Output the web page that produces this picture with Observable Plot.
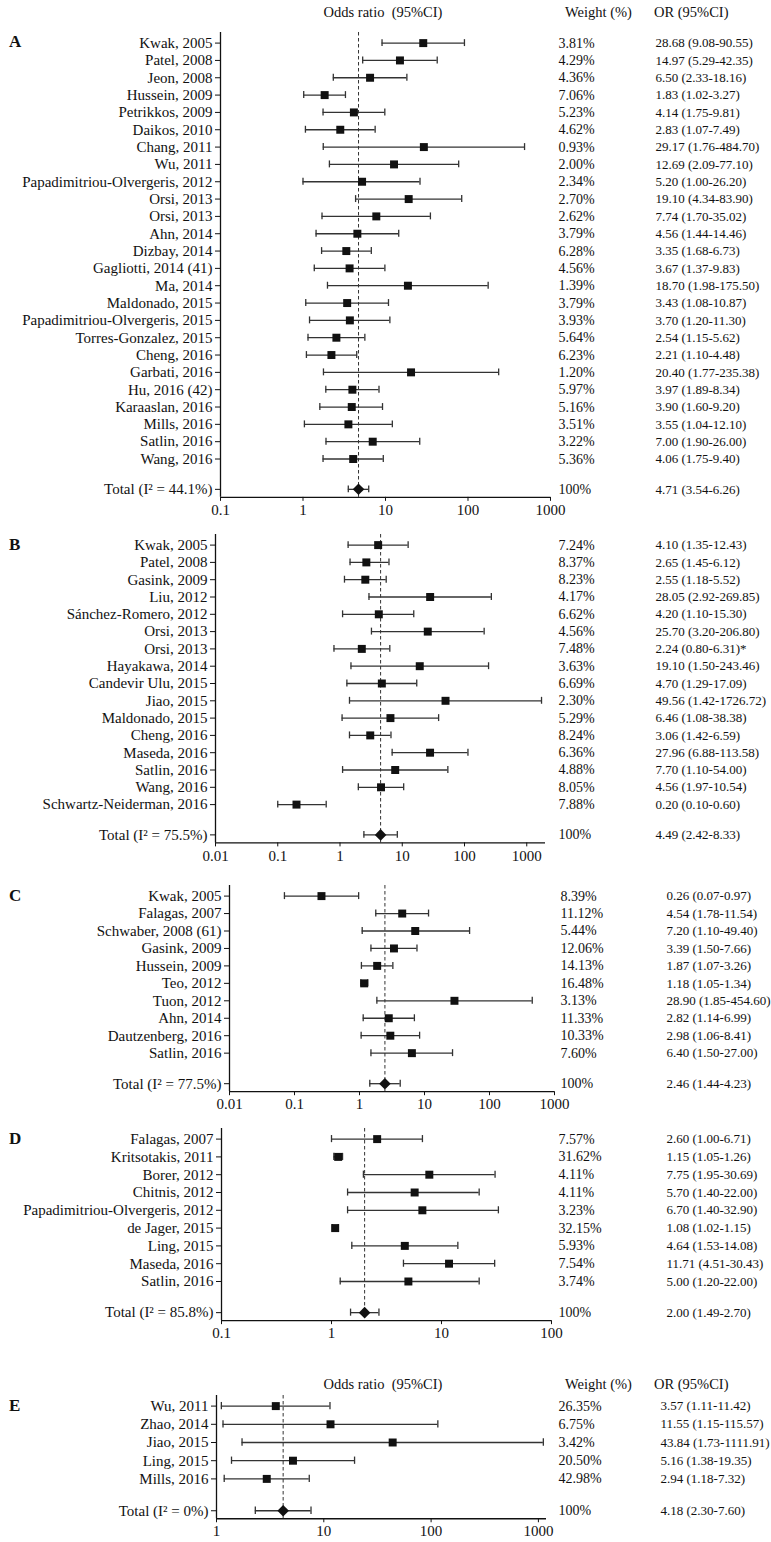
<!DOCTYPE html>
<html><head><meta charset="utf-8">
<script src="https://cdn.jsdelivr.net/npm/d3@7"></script>
<script src="https://cdn.jsdelivr.net/npm/@observablehq/plot@0.6"></script>
<style>
body{margin:0;background:#fff;}
#root{position:relative;width:771px;height:1542px;overflow:hidden;font-family:"Liberation Serif","Times New Roman",serif;color:#111;}
.abs{position:absolute;white-space:pre;line-height:18px;}
.hdr{font-size:14.5px;}
.letter{font-size:17px;font-weight:bold;}
</style></head><body><div id="root"></div>
<script>
// ---------- Panel A ----------
const aStudy = ["Kwak, 2005","Patel, 2008","Jeon, 2008","Hussein, 2009","Petrikkos, 2009","Daikos, 2010","Chang, 2011","Wu, 2011","Papadimitriou-Olvergeris, 2012","Orsi, 2013","Orsi, 2013","Ahn, 2014","Dizbay, 2014","Gagliotti, 2014 (41)","Ma, 2014","Maldonado, 2015","Papadimitriou-Olvergeris, 2015","Torres-Gonzalez, 2015","Cheng, 2016","Garbati, 2016","Hu, 2016 (42)","Karaaslan, 2016","Mills, 2016","Satlin, 2016","Wang, 2016"];
const aOR   = [28.68,14.97,6.50,1.83,4.14,2.83,29.17,12.69,5.20,19.10,7.74,4.56,3.35,3.67,18.70,3.43,3.70,2.54,2.21,20.40,3.97,3.90,3.55,7.00,4.06];
const aLow  = [9.08,5.29,2.33,1.02,1.75,1.07,1.76,2.09,1.00,4.34,1.70,1.44,1.68,1.37,1.98,1.08,1.20,1.15,1.10,1.77,1.89,1.60,1.04,1.90,1.75];
const aHigh = [90.55,42.35,18.16,3.27,9.81,7.49,484.70,77.10,26.20,83.90,35.02,14.46,6.73,9.83,175.50,10.87,11.30,5.62,4.48,235.38,8.34,9.20,12.10,26.00,9.40];
const aWeight = [3.81,4.29,4.36,7.06,5.23,4.62,0.93,2.00,2.34,2.70,2.62,3.79,6.28,4.56,1.39,3.79,3.93,5.64,6.23,1.20,5.97,5.16,3.51,3.22,5.36];
const aNote = aStudy.map(() => "");
const aTotal = [4.71, 3.54, 6.26];
const aI2 = "44.1";
const aTicks = [0.1, 1, 10, 100, 1000];

// ---------- Panel B ----------
const bStudy = ["Kwak, 2005","Patel, 2008","Gasink, 2009","Liu, 2012","Sánchez-Romero, 2012","Orsi, 2013","Orsi, 2013","Hayakawa, 2014","Candevir Ulu, 2015","Jiao, 2015","Maldonado, 2015","Cheng, 2016","Maseda, 2016","Satlin, 2016","Wang, 2016","Schwartz-Neiderman, 2016"];
const bOR   = [4.10,2.65,2.55,28.05,4.20,25.70,2.24,19.10,4.70,49.56,6.46,3.06,27.96,7.70,4.56,0.20];
const bLow  = [1.35,1.45,1.18,2.92,1.10,3.20,0.80,1.50,1.29,1.42,1.08,1.42,6.88,1.10,1.97,0.10];
const bHigh = [12.43,6.12,5.52,269.85,15.30,206.80,6.31,243.46,17.09,1726.72,38.38,6.59,113.58,54.00,10.54,0.60];
const bWeight = [7.24,8.37,8.23,4.17,6.62,4.56,7.48,3.63,6.69,2.30,5.29,8.24,6.36,4.88,8.05,7.88];
const bNote = ["","","","","","","*","","","","","","","","",""];
const bTotal = [4.49, 2.42, 8.33];
const bI2 = "75.5";
const bTicks = [0.01, 0.1, 1, 10, 100, 1000];

// ---------- Panel C ----------
const cStudy = ["Kwak, 2005","Falagas, 2007","Schwaber, 2008 (61)","Gasink, 2009","Hussein, 2009","Teo, 2012","Tuon, 2012","Ahn, 2014","Dautzenberg, 2016","Satlin, 2016"];
const cOR   = [0.26,4.54,7.20,3.39,1.87,1.18,28.90,2.82,2.98,6.40];
const cLow  = [0.07,1.78,1.10,1.50,1.07,1.05,1.85,1.14,1.06,1.50];
const cHigh = [0.97,11.54,49.40,7.66,3.26,1.34,454.60,6.99,8.41,27.00];
const cWeight = [8.39,11.12,5.44,12.06,14.13,16.48,3.13,11.33,10.33,7.60];
const cNote = cStudy.map(() => "");
const cTotal = [2.46, 1.44, 4.23];
const cI2 = "77.5";
const cTicks = [0.01, 0.1, 1, 10, 100, 1000];

// ---------- Panel D ----------
const dStudy = ["Falagas, 2007","Kritsotakis, 2011","Borer, 2012","Chitnis, 2012","Papadimitriou-Olvergeris, 2012","de Jager, 2015","Ling, 2015","Maseda, 2016","Satlin, 2016"];
const dOR   = [2.60,1.15,7.75,5.70,6.70,1.08,4.64,11.71,5.00];
const dLow  = [1.00,1.05,1.95,1.40,1.40,1.02,1.53,4.51,1.20];
const dHigh = [6.71,1.26,30.69,22.00,32.90,1.15,14.08,30.43,22.00];
const dWeight = [7.57,31.62,4.11,4.11,3.23,32.15,5.93,7.54,3.74];
const dNote = dStudy.map(() => "");
const dTotal = [2.00, 1.49, 2.70];
const dI2 = "85.8";
const dTicks = [0.1, 1, 10, 100];

// ---------- Panel E ----------
const eStudy = ["Wu, 2011","Zhao, 2014","Jiao, 2015","Ling, 2015","Mills, 2016"];
const eOR   = [3.57,11.55,43.84,5.16,2.94];
const eLow  = [1.11,1.15,1.73,1.38,1.18];
const eHigh = [11.42,115.57,1111.91,19.35,7.32];
const eWeight = [26.35,6.75,3.42,20.50,42.98];
const eNote = eStudy.map(() => "");
const eTotal = [4.18, 2.30, 7.60];
const eI2 = "0";
const eTicks = [1, 10, 100, 1000];

const headerTexts = ["Odds ratio  (95%CI)", "Weight (%)", "OR (95%CI)"];

const FONT = '"Liberation Serif","Times New Roman",serif';
const root = document.getElementById("root");

function addDiv(text, cls, left, top, extra) {
  const d = document.createElement("div");
  d.className = "abs " + cls;
  d.textContent = text;
  d.style.left = left + "px";
  d.style.top = top + "px";
  if (extra) Object.assign(d.style, extra);
  root.appendChild(d);
  return d;
}

function header(y) {
  addDiv(headerTexts[0], "hdr", 383, y - 9, {transform: "translateX(-50%)"});
  addDiv(headerTexts[1], "hdr", 565, y - 9);
  addDiv(headerTexts[2], "hdr", 654, y - 9);
}

const f2 = v => v.toFixed(2);

function forest(cfg, study, or, low, high, weight, note, total, i2, ticks) {
  const n = study.length;
  const rowH = cfg.rowH;
  const totalPos = n - 1 + 1.75;
  const topPad = 10.6 / rowH;
  const yTop = -topPad, yBot = totalPos + 8 / rowH;
  const mt = 12, mb = 32;
  const frameH = (yBot - yTop) * rowH;
  const height = mt + frameH + mb;
  const svgTop = cfg.firstY - topPad * rowH - mt;

  const rows = study.map((s, i) => ({
    i, label: s, or: or[i], lo: low[i], hi: high[i],
    wText: f2(weight[i]) + "%",
    orText: `${f2(or[i])} (${f2(low[i])}-${f2(high[i])})${note[i]}`
  }));
  const tot = {
    i: totalPos, label: `Total (I\u00B2 = ${i2}%)`, or: total[0], lo: total[1], hi: total[2],
    wText: "100%", orText: `${f2(total[0])} (${f2(total[1])}-${f2(total[2])})`
  };
  const all = rows.concat([tot]);
  const labelOf = new Map(all.map(d => [d.i, d.label]));
  const capH = 0.2;
  const ink = "#111", line = "#333";

  const svg = Plot.plot({
    width: 771,
    height,
    marginLeft: cfg.x0,
    marginRight: 771 - cfg.x1,
    marginTop: mt,
    marginBottom: mb,
    style: {fontFamily: FONT, fontSize: "15px", color: ink, background: "transparent", overflow: "visible"},
    x: {type: "log", domain: cfg.domain, ticks, tickFormat: d => String(d), tickSize: 4, tickPadding: 3, label: null},
    y: {domain: [yTop, yBot], reverse: true, ticks: all.map(d => d.i), tickFormat: v => labelOf.get(v) ?? "", tickSize: 5, tickPadding: 3, label: null},
    marks: [
      Plot.ruleX([total[0]], {stroke: "#333", strokeDasharray: "3.5,2.5", strokeWidth: 1}),
      Plot.ruleX([cfg.domain[0]], {stroke: ink, strokeWidth: 1.3}),
      Plot.ruleY([yBot], {stroke: ink, strokeWidth: 1.3}),
      Plot.ruleY(all, {y: "i", x1: "lo", x2: "hi", stroke: line, strokeWidth: 1.3}),
      Plot.ruleX(all, {x: "lo", y1: d => d.i - capH, y2: d => d.i + capH, stroke: line, strokeWidth: 1.3}),
      Plot.ruleX(all, {x: "hi", y1: d => d.i - capH, y2: d => d.i + capH, stroke: line, strokeWidth: 1.3}),
      Plot.dot(rows, {x: "or", y: "i", symbol: "square", r: 4.5, fill: ink, stroke: null}),
      Plot.dot([tot], {x: "or", y: "i", symbol: "diamond2", r: 5.2, fill: ink, stroke: null}),
      Plot.text(all, {y: "i", text: "wText", frameAnchor: "right", textAnchor: "start", dx: cfg.wX - cfg.x1, fontSize: 14, fill: ink}),
      Plot.text(all, {y: "i", text: "orText", frameAnchor: "right", textAnchor: "start", dx: cfg.orX - cfg.x1, fontSize: 13, fill: ink})
    ]
  });
  const wrap = document.createElement("div");
  wrap.style.position = "absolute";
  wrap.style.left = "0px";
  wrap.style.top = svgTop + "px";
  wrap.appendChild(svg);
  root.appendChild(wrap);
  addDiv(cfg.key, "letter", 9, cfg.firstY - 9);
}

header(12);
forest({key: "A", firstY: 42.3, rowH: 17.33, x0: 220, x1: 550, domain: [0.1, 1000], wX: 558, orX: 655},
  aStudy, aOR, aLow, aHigh, aWeight, aNote, aTotal, aI2, aTicks);
forest({key: "B", firstY: 545, rowH: 17.3, x0: 215, x1: 545, domain: [0.01, 2000], wX: 558, orX: 655},
  bStudy, bOR, bLow, bHigh, bWeight, bNote, bTotal, bI2, bTicks);
forest({key: "C", firstY: 895.8, rowH: 17.45, x0: 229, x1: 554, domain: [0.01, 1000], wX: 560, orX: 666},
  cStudy, cOR, cLow, cHigh, cWeight, cNote, cTotal, cI2, cTicks);
forest({key: "D", firstY: 1139, rowH: 17.8, x0: 221, x1: 551, domain: [0.1, 100], wX: 558, orX: 666},
  dStudy, dOR, dLow, dHigh, dWeight, dNote, dTotal, dI2, dTicks);
header(1384);
forest({key: "E", firstY: 1406, rowH: 18.2, x0: 216, x1: 546, domain: [1, 1190], wX: 558, orX: 660},
  eStudy, eOR, eLow, eHigh, eWeight, eNote, eTotal, eI2, eTicks);
</script></body></html>
